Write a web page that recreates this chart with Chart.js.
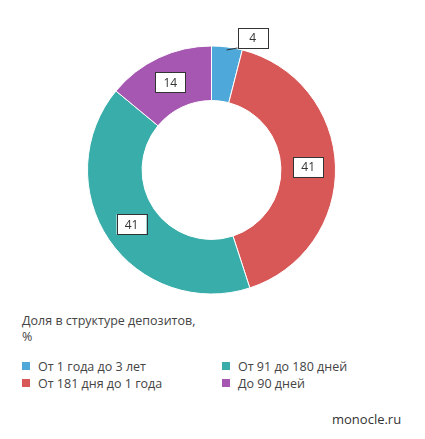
<!DOCTYPE html>
<html><head><meta charset="utf-8">
<script src="https://cdn.jsdelivr.net/npm/chart.js@4"></script>
<style>
body{margin:0;background:#fff;font-family:"Open Sans",sans-serif;color:#333;}
#wrap{position:relative;width:425px;height:439px;}
#c{position:absolute;left:0;top:0;}
.lg{position:absolute;font-size:12.5px;color:#444;}
.sq{display:inline-block;width:8px;height:8px;margin-right:8px;vertical-align:1px;}
</style></head><body>
<div id="wrap">
<canvas id="c" width="425" height="310"></canvas>
<div class="lg" style="left:22px;top:313px;line-height:16px">Доля в структуре депозитов,<br>%</div>
<div class="lg" style="left:22px;top:358px"><span class="sq" style="background:#4EA8DA"></span>От 1 года до 3 лет</div>
<div class="lg" style="left:22px;top:375px"><span class="sq" style="background:#D85757"></span>От 181 дня до 1 года</div>
<div class="lg" style="left:222px;top:358px"><span class="sq" style="background:#38ADAA"></span>От 91 до 180 дней</div>
<div class="lg" style="left:222px;top:375px"><span class="sq" style="background:#A657B1"></span>До 90 дней</div>
<div class="lg" style="left:332px;top:410px;font-size:13px;color:#333">monocle.ru</div>
</div>
<script>
const categories = ['От 1 года до 3 лет','От 181 дня до 1 года','От 91 до 180 дней','До 90 дней'];
const values = [4, 41, 41, 14];
const colors = ['#4EA8DA','#D85757','#38ADAA','#A657B1'];

const boxLabels = {
  id: 'boxLabels',
  afterDatasetsDraw(chart) {
    const ctx = chart.ctx;
    const meta = chart.getDatasetMeta(0);
    ctx.save();
    ctx.font = '12px "Open Sans", sans-serif';
    ctx.textAlign = 'center';
    ctx.textBaseline = 'middle';
    meta.data.forEach((arc, i) => {
      const p = arc.getProps(['x','y','startAngle','endAngle','innerRadius','outerRadius']);
      const mid = (p.startAngle + p.endAngle) / 2;
      const r = (p.innerRadius + p.outerRadius) / 2;
      let x = p.x + Math.cos(mid) * r;
      let y = p.y + Math.sin(mid) * r;
      const w = 30, h = 20;
      if (values[i] < 8) {
        const ax = p.x + Math.cos(mid) * (p.outerRadius - 3);
        const ay = p.y + Math.sin(mid) * (p.outerRadius - 3);
        x = ax + 26; y = ay - 12;
        ctx.strokeStyle = '#333'; ctx.lineWidth = 1;
        ctx.beginPath(); ctx.moveTo(ax, ay); ctx.lineTo(x - w/2, y + h/2); ctx.stroke();
      }
      ctx.fillStyle = '#fff';
      ctx.fillRect(x - w/2, y - h/2, w, h);
      ctx.strokeStyle = '#333'; ctx.lineWidth = 1;
      ctx.strokeRect(Math.round(x - w/2) + 0.5, Math.round(y - h/2) + 0.5, w, h);
      ctx.fillStyle = '#333';
      ctx.fillText(String(values[i]), x, y + 1);
    });
    ctx.restore();
  }
};

new Chart(document.getElementById('c'), {
  type: 'doughnut',
  data: { labels: categories, datasets: [{ data: values, backgroundColor: colors, borderColor: '#fff', borderWidth: 1 }] },
  options: {
    responsive: false, animation: false, cutout: '56%',
    layout: { padding: { left: 87, right: 89, top: 45, bottom: 15 } },
    plugins: { legend: { display: false }, tooltip: { enabled: false } }
  },
  plugins: [boxLabels]
});
</script>
</body></html>
